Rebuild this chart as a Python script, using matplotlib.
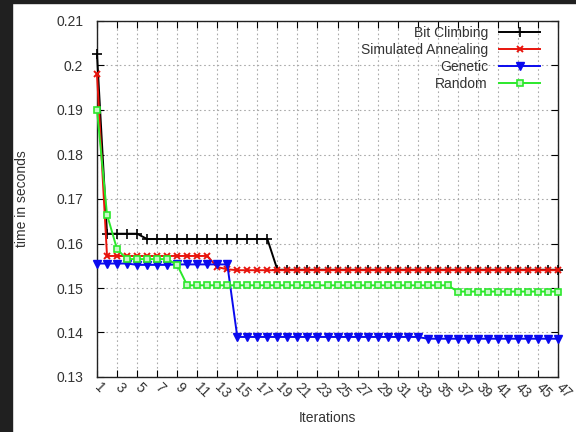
import matplotlib

matplotlib.use("Agg")

import matplotlib.pyplot as plt
from matplotlib.patches import Rectangle

plt.rcParams["font.family"] = ["Liberation Sans", "DejaVu Sans"]

ITERATIONS = list(range(1, 48))

BIT_CLIMBING = [
    0.2025, 0.1622, 0.1622, 0.1622, 0.1622, 0.1610, 0.1610, 0.1610, 0.1610, 0.1610,
    0.1610, 0.1610, 0.1610, 0.1610, 0.1610, 0.1610, 0.1610, 0.1610, 0.1541, 0.1541,
    0.1541, 0.1541, 0.1541, 0.1541, 0.1541, 0.1541, 0.1541, 0.1541, 0.1541, 0.1541,
    0.1541, 0.1541, 0.1541, 0.1541, 0.1541, 0.1541, 0.1541, 0.1541, 0.1541, 0.1541,
    0.1541, 0.1541, 0.1541, 0.1541, 0.1541, 0.1541, 0.1541,
]
SIMULATED_ANNEALING = [
    0.1980, 0.1572, 0.1572, 0.1572, 0.1572, 0.1572, 0.1572, 0.1572, 0.1572, 0.1572,
    0.1572, 0.1572, 0.1547, 0.1542, 0.1540, 0.1540, 0.1540, 0.1540, 0.1540, 0.1540,
    0.1540, 0.1540, 0.1540, 0.1540, 0.1540, 0.1540, 0.1540, 0.1540, 0.1540, 0.1540,
    0.1540, 0.1540, 0.1540, 0.1540, 0.1540, 0.1540, 0.1540, 0.1540, 0.1540, 0.1540,
    0.1540, 0.1540, 0.1540, 0.1540, 0.1540, 0.1540, 0.1540,
]
GENETIC = [
    0.1555, 0.1555, 0.1555, 0.1555, 0.1552, 0.1552, 0.1552, 0.1552, 0.1553, 0.1553,
    0.1553, 0.1553, 0.1553, 0.1553, 0.1390, 0.1390, 0.1390, 0.1390, 0.1390, 0.1390,
    0.1390, 0.1390, 0.1390, 0.1390, 0.1390, 0.1390, 0.1390, 0.1390, 0.1390, 0.1390,
    0.1390, 0.1390, 0.1390, 0.1386, 0.1386, 0.1386, 0.1386, 0.1386, 0.1386, 0.1386,
    0.1386, 0.1386, 0.1386, 0.1386, 0.1386, 0.1386, 0.1386,
]
RANDOM = [
    0.1900, 0.1665, 0.1587, 0.1565, 0.1565, 0.1565, 0.1565, 0.1565, 0.1552, 0.1506,
    0.1506, 0.1506, 0.1506, 0.1506, 0.1506, 0.1506, 0.1506, 0.1506, 0.1506, 0.1506,
    0.1506, 0.1506, 0.1506, 0.1506, 0.1506, 0.1506, 0.1506, 0.1506, 0.1506, 0.1506,
    0.1506, 0.1506, 0.1506, 0.1506, 0.1506, 0.1506, 0.1492, 0.1492, 0.1492, 0.1492,
    0.1492, 0.1492, 0.1492, 0.1492, 0.1492, 0.1492, 0.1492,
]

SERIES_NAMES = ["Bit Climbing", "Simulated Annealing", "Genetic", "Random"]
XTICKS = list(range(1, 48, 2))
YTICKS = [0.13, 0.14, 0.15, 0.16, 0.17, 0.18, 0.19, 0.20, 0.21]
YTICK_LABELS = ["0.13", "0.14", "0.15", "0.16", "0.17", "0.18", "0.19", "0.2", "0.21"]

STYLES = {
    "Bit Climbing": dict(color="#000000", marker="+", markersize=7, mew=1.2, mfc="none"),
    "Simulated Annealing": dict(color="#e8140c", marker="x", markersize=5, mew=1.4, mfc="none"),
    "Genetic": dict(color="#0a0aee", marker="v", markersize=5.5, mew=1.0),
    "Random": dict(color="#2be82b", marker="s", markersize=4.8, mew=1.2, mfc="#c8f8c8"),
}

W, H = 576, 432
fig = plt.figure(figsize=(W / 100, H / 100), dpi=100)
fig.add_artist(Rectangle((0, 0), 12 / W, 1, transform=fig.transFigure, color="#202020", zorder=0))
fig.add_artist(Rectangle((0, 1 - 3 / H), 1, 3 / H, transform=fig.transFigure, color="#202020", zorder=0))

ax = fig.add_axes([97 / W, 1 - 377 / H, 461 / W, 356 / H])

for name, values in zip(SERIES_NAMES, [BIT_CLIMBING, SIMULATED_ANNEALING, GENETIC, RANDOM]):
    st = STYLES[name]
    ax.plot(ITERATIONS, values, label=name, linewidth=1.4, clip_on=False, zorder=3, **st)

ax.set_xlim(1, 47)
ax.set_ylim(0.13, 0.21)
ax.set_xticks(XTICKS)
ax.set_xticklabels([str(t) for t in XTICKS])
ax.set_yticks(YTICKS)
ax.set_yticklabels(YTICK_LABELS)
ax.tick_params(direction="in", top=True, right=True, length=5, width=0.8,
               labelsize=10, labelcolor="#333333")
ax.tick_params(axis="y", pad=10)
ax.tick_params(axis="x", pad=6)
for lab in ax.get_xticklabels():
    lab.set_rotation(-45)
    lab.set_ha("left")
    lab.set_va("center")
    lab.set_rotation_mode("anchor")

ax.grid(True, color="#aaaaaa", linestyle=(0, (1.5, 2.5)), linewidth=0.8)
ax.set_axisbelow(True)
for sp in ax.spines.values():
    sp.set_linewidth(1.0)
    sp.set_color("#222222")

ax.set_xlabel("Iterations", fontsize=10, color="#333333")
ax.set_ylabel("time in seconds", fontsize=10, color="#333333")
ax.xaxis.set_label_coords((327 - 97) / 461, -(411 - 377) / 356)
ax.yaxis.set_label_coords(-(97 - 29) / 461, 0.5)

ax.legend(
    loc="upper right",
    bbox_to_anchor=((540 - 97) / 461, (377 - 26) / 356),
    frameon=False,
    markerfirst=False,
    fontsize=10,
    handlelength=2.95,
    handletextpad=0.8,
    labelspacing=0.22,
    borderpad=0,
    borderaxespad=0,
    labelcolor="#333333",
)

fig.savefig("out.png", dpi=100)
